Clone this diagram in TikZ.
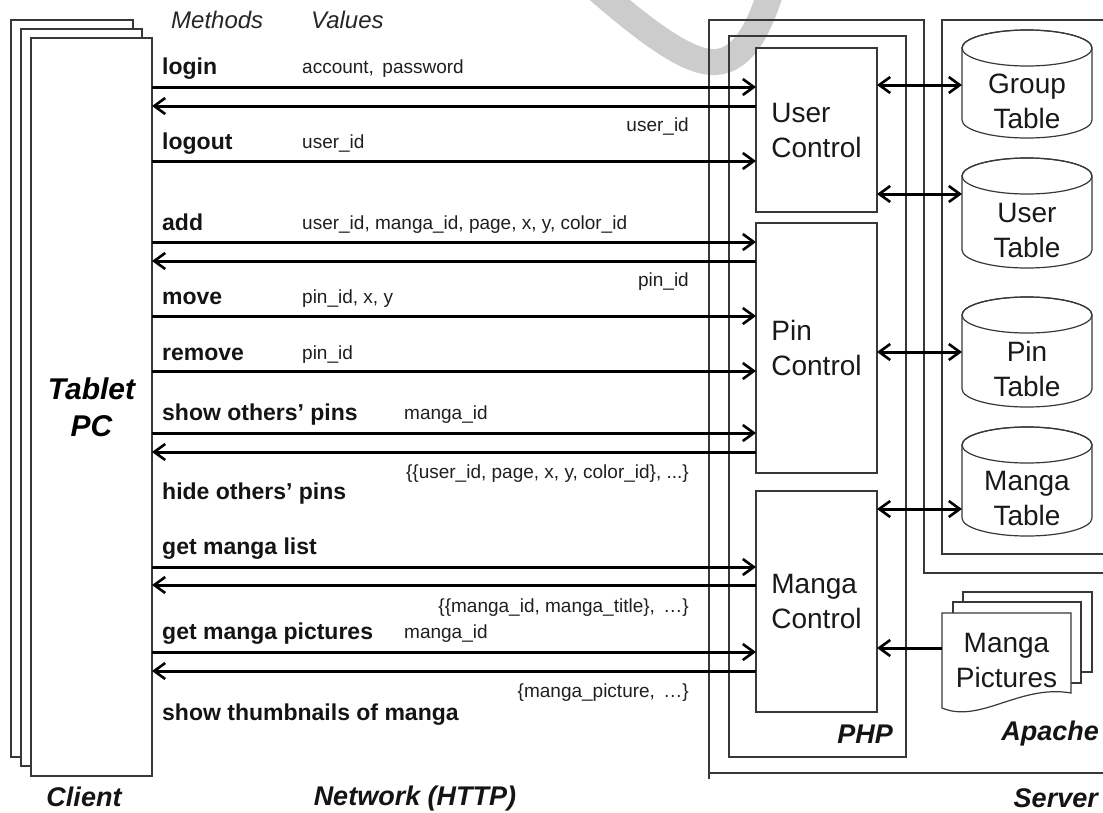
\documentclass[tikz,border=0pt]{standalone}
\usepackage{fontspec}
\setmainfont{Liberation Sans}
\usetikzlibrary{arrows.meta}
\newcommand\dbcyl[4]{%
  \path[box] (962,#2+18) -- (962,#3-18)
     arc[start angle=180,end angle=360,x radius=65pt,y radius=18pt]
     -- (1092,#2+18)
     arc[start angle=0,end angle=180,x radius=65pt,y radius=18pt] -- cycle;
  \draw[frame] (1027,#2+18) ellipse[x radius=65pt,y radius=18pt];
  \node[boxtext, minimum width=130, minimum height=40] (#1) at (1027,{(#2+#3+36)/2-1}) {#4};
}
\begin{document}
\begin{tikzpicture}[x=1pt,y=-1pt,
  frame/.style={draw=black!78, line width=1.2pt},
  box/.style={draw=black!78, line width=1.2pt, fill=white, inner sep=0pt, outer sep=0pt},
  boxtext/.style={font=\fontsize{28}{35}\selectfont, align=center, text=black!90, inner sep=0pt, outer sep=0pt},
  meth/.style={font=\fontsize{23}{27}\selectfont\bfseries, anchor=mid west, inner sep=0pt, text=black!92},
  val/.style={font=\fontsize{19}{23}\selectfont, anchor=mid west, inner sep=0pt, text=black!88},
  ret/.style={font=\fontsize{19}{23}\selectfont, anchor=mid east, inner sep=0pt, text=black!88},
  hdr/.style={font=\fontsize{24}{28}\selectfont\itshape, anchor=mid west, inner sep=0pt, text=black!85},
  sect/.style={font=\fontsize{27}{32}\selectfont\bfseries\itshape, inner sep=0pt, text=black!92},
  >={Straight Barb[length=11pt,width=16pt,line width=2.6pt]},
  conn/.style={line width=3pt, ->},
  dconn/.style={line width=3pt, <->}
]
\useasboundingbox (0,0) rectangle (1103,812);
% watermark
\draw[black!20, line width=26pt] (598,-10) .. controls (650,35) and (690,64) .. (716,62) .. controls (745,60) and (760,25) .. (772,-12);

% client stack
\node[box, minimum width=122, minimum height=737, anchor=north west] (cback) at (11,20) {};
\node[box, minimum width=121, minimum height=737, anchor=north west] (cmid) at (21,29) {};
\node[box, minimum width=121, minimum height=738, anchor=north west, align=center,
      font=\fontsize{30}{37}\selectfont\bfseries\itshape] (client) at (31,38) {Tablet\\PC};

% server frames
\draw[frame] (709,779) -- (709,20) -- (924,20) -- (924,573) -- (1110,573);
\draw[frame] (709,773) -- (1110,773);
\draw[frame] (1110,20) -- (942,20) -- (942,554) -- (1110,554);
\draw[frame] (729,36) rectangle (906,757);

% control boxes
\node[box, minimum width=121, minimum height=164, anchor=north west, boxtext, align=left] (uc) at (756,48) {User\\Control};
\node[box, minimum width=121, minimum height=250, anchor=north west, boxtext, align=left] (pc) at (756,223) {Pin\\Control};
\node[box, minimum width=121, minimum height=221, anchor=north west, boxtext, align=left] (mc) at (756,491) {Manga\\Control};

% tables
\dbcyl{gt}{30}{138}{Group\\Table}
\dbcyl{ut}{158}{268}{User\\Table}
\dbcyl{pt}{297}{407}{Pin\\Table}
\dbcyl{mt}{427}{536}{Manga\\Table}

% manga pictures
\path[box] (963,592) rectangle (1092,672);
\path[box] (953,602) rectangle (1081,683);
\path[box] (942,613) -- (942,708) .. controls (980,724) and (1020,684) .. (1071,693) -- (1071,613) -- cycle;
\node[boxtext, minimum width=129, minimum height=60] (mp) at (1006.5,660) {Manga\\Pictures};

% header
\node[hdr] (hmeth) at (171,26) {Methods};
\node[hdr] (hval) at (311,26) {Values};

% method labels
\node[meth] (m1) at (162,72) {login};
\node[meth] (m2) at (162,147) {logout};
\node[meth] (m3) at (162,228) {add};
\node[meth] (m4) at (162,302) {move};
\node[meth] (m5) at (162,358) {remove};
\node[meth] (m6) at (162,418) {show others' pins};
\node[meth] (m7) at (162,497) {hide others' pins};
\node[meth] (m8) at (162,552) {get manga list};
\node[meth] (m9) at (162,637) {get manga pictures};
\node[meth] (m10) at (162,718) {show thumbnails of manga};

% values
\node[val] (v1) at (302,71) {account,\, password};
\node[val] (v2) at (302,146) {user\_id};
\node[val] (v3) at (302,227) {user\_id, manga\_id, page, x, y, color\_id};
\node[val] (v4) at (302,301) {pin\_id, x, y};
\node[val] (v5) at (302,357) {pin\_id};
\node[val] (v6) at (404,417) {manga\_id};
\node[val] (v7) at (404,636) {manga\_id};

% return values
\node[ret] (r1) at (689,129) {user\_id};
\node[ret] (r2) at (689,284) {pin\_id};
\node[ret] (r3) at (689,476) {\{\{user\_id, page, x, y, color\_id\}, ...\}};
\node[ret] (r4) at (689,610) {\{\{manga\_id, manga\_title\},\, …\}};
\node[ret] (r5) at (689,695) {\{manga\_picture,\, …\}};

% row coordinates
\coordinate (y1) at (0,87);
\coordinate (y2) at (0,106);
\coordinate (y3) at (0,161);
\coordinate (y4) at (0,242);
\coordinate (y5) at (0,261);
\coordinate (y6) at (0,316);
\coordinate (y7) at (0,371);
\coordinate (y8) at (0,433);
\coordinate (y9) at (0,452);
\coordinate (y10) at (0,567);
\coordinate (y11) at (0,585);
\coordinate (y12) at (0,652);
\coordinate (y13) at (0,671);
\coordinate (d1) at (0,85);
\coordinate (d2) at (0,194);
\coordinate (d3) at (0,352);
\coordinate (d4) at (0,509);
\coordinate (d5) at (0,648);

% client <-> controls
\draw[conn] (client.east |- y1) -- (uc.west |- y1);
\draw[conn] (uc.west |- y2) -- (client.east |- y2);
\draw[conn] (client.east |- y3) -- (uc.west |- y3);
\draw[conn] (client.east |- y4) -- (pc.west |- y4);
\draw[conn] (pc.west |- y5) -- (client.east |- y5);
\draw[conn] (client.east |- y6) -- (pc.west |- y6);
\draw[conn] (client.east |- y7) -- (pc.west |- y7);
\draw[conn] (client.east |- y8) -- (pc.west |- y8);
\draw[conn] (pc.west |- y9) -- (client.east |- y9);
\draw[conn] (client.east |- y10) -- (mc.west |- y10);
\draw[conn] (mc.west |- y11) -- (client.east |- y11);
\draw[conn] (client.east |- y12) -- (mc.west |- y12);
\draw[conn] (mc.west |- y13) -- (client.east |- y13);

% controls <-> tables
\draw[dconn] (uc.east |- d1) -- (gt.west |- d1);
\draw[dconn] (uc.east |- d2) -- (ut.west |- d2);
\draw[dconn] (pc.east |- d3) -- (pt.west |- d3);
\draw[dconn] (mc.east |- d4) -- (mt.west |- d4);
\draw[conn] (mp.west |- d5) -- (mc.east |- d5);

% section labels
\node[sect] (lclient) at (84,797) {Client};
\node[sect] (lnet) at (415,799) {Network (HTTP)};
\node[sect, anchor=east] (lserver) at (1098,798) {Server};
\node[sect, anchor=east] (lphp) at (893,734) {PHP};
\node[sect, anchor=east] (lapache) at (1099,734) {Apache};
\end{tikzpicture}
\end{document}
